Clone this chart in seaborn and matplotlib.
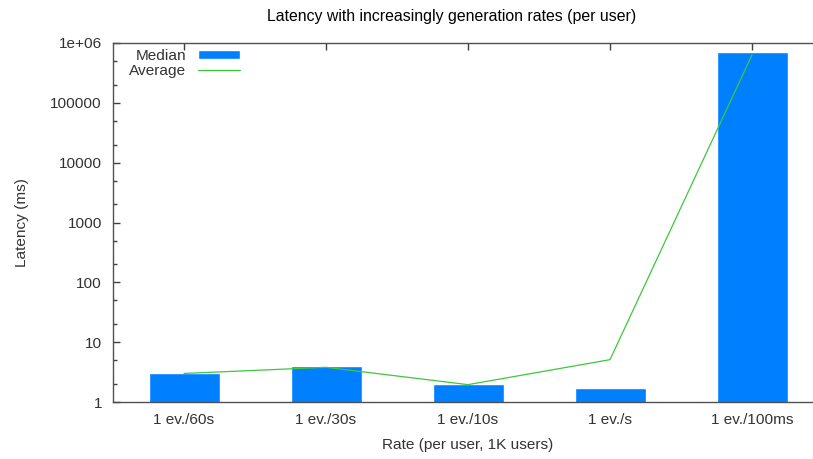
import numpy as np
import pandas as pd
import seaborn as sns
import matplotlib
matplotlib.use('Agg')
import matplotlib.pyplot as plt
from matplotlib.ticker import FixedLocator, NullFormatter

rates = ['1 ev./60s', '1 ev./30s', '1 ev./10s', '1 ev./s', '1 ev./100ms']
median = [3.0, 4.0, 2.0, 1.7, 710000]
average = [3.0, 3.8, 1.95, 5.1, 630000]
ytick_vals = [1, 10, 100, 1000, 10000, 100000, 1000000]
ytick_labels = ['1', '10', '100', '1000', '10000', '100000', '1e+06']

sns.set_style('white')
plt.rcParams['font.family'] = ['Liberation Sans', 'DejaVu Sans']
fs = 11.1
txt = '#333333'

df = pd.DataFrame({'rate': rates, 'median': median, 'average': average,
                   'pos': np.arange(len(rates))})

fig = plt.figure(figsize=(8.13, 4.59), dpi=100)
ax = fig.add_axes([113 / 813, 57 / 459, 710 / 813, 359 / 459])

sns.barplot(data=df, x='rate', y='median', color='#0080ff', width=0.5,
            saturation=1, ax=ax, label='Median', zorder=2)
sns.lineplot(data=df, x='pos', y='average', color='#3cc83c', linewidth=0.9,
             sort=False, ax=ax, label='Average', zorder=3)

ax.set_yscale('log')
ax.set_ylim(1, 1e6)
ax.set_xlim(-0.5, 4.5)
ax.yaxis.set_major_locator(FixedLocator(ytick_vals))
ax.set_yticklabels(ytick_labels)
minors = [m * 10 ** e for e in range(0, 6) for m in (2, 5)]
ax.yaxis.set_minor_locator(FixedLocator(minors))
ax.yaxis.set_minor_formatter(NullFormatter())
ax.set_xticks(range(len(rates)))
ax.set_xticklabels(rates)

ax.tick_params(axis='both', which='major', direction='in', length=5, width=1,
               color='#404040', labelsize=fs, labelcolor=txt, pad=8)
ax.tick_params(axis='y', which='minor', direction='in', length=3, width=1,
               color='#404040', left=True)
ax.tick_params(axis='x', top=True, bottom=True)
ax.tick_params(axis='y', left=True, right=False)

for s in ax.spines.values():
    s.set_color('#505050')
    s.set_linewidth(1)

ax.set_xlabel('Rate (per user, 1K users)', fontsize=fs, color=txt, labelpad=8)
ax.set_ylabel('Latency (ms)', fontsize=fs, color=txt, labelpad=15)
ax.set_title('Latency with increasingly generation rates (per user)',
             fontsize=11.4, color='black', pad=16, x=(452 - 113) / 710)

handles, labels = ax.get_legend_handles_labels()
order = [labels.index('Median'), labels.index('Average')]
leg = ax.legend([handles[i] for i in order], [labels[i] for i in order],
                loc='upper left', bbox_to_anchor=(0.0225, 0.984), frameon=False,
                markerfirst=False, fontsize=fs, handlelength=2.75,
                handleheight=0.5, handletextpad=0.75, labelspacing=0.1,
                borderpad=0, borderaxespad=0)
for t in leg.get_texts():
    t.set_color(txt)

fig.savefig('out.png', dpi=100)
